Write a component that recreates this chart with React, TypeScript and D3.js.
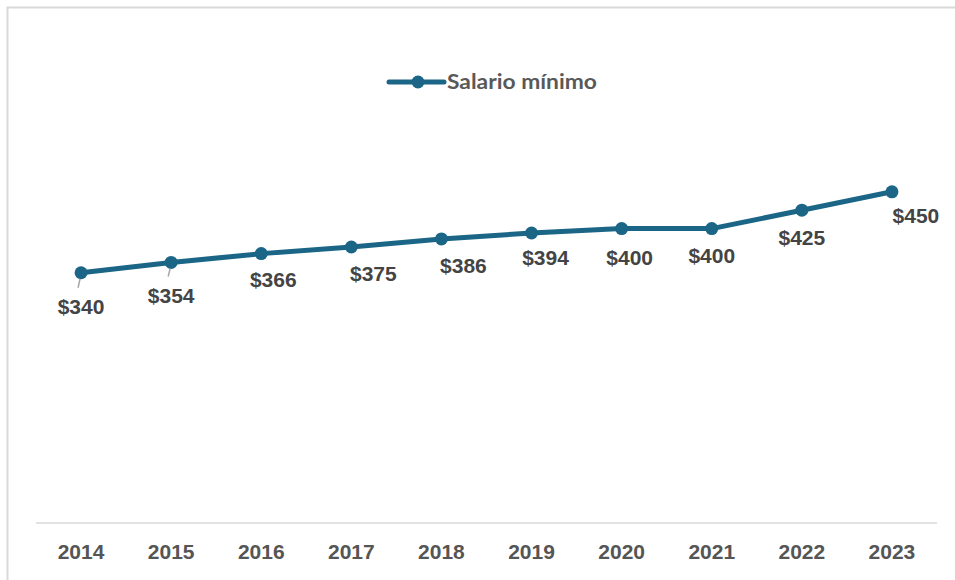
import { useMemo } from "react";
import * as d3 from "d3";

const years = ["2014", "2015", "2016", "2017", "2018", "2019", "2020", "2021", "2022", "2023"];
const salario = [340, 354, 366, 375, 386, 394, 400, 400, 425, 450];
const seriesName = "Salario mínimo";

// label nudges (dx, dy) as Excel placed them
const labelDx = [0, 0, 12, 22, 22, 14, 8, 0, 0, 24];
const labelDy = [34, 33, 26, 26, 27, 24, 29, 27, 27, 24];
const hasLeader = [true, true, false, false, false, false, false, false, false, false];

const lineColor = "#1b6586";
const labelColor = "#444444";
const axisColor = "#555555";

export default function App() {
  const width = 955;
  const height = 580;

  const x = useMemo(() => d3.scaleBand<string>().domain(years).range([36, 937]), []);
  const y = useMemo(() => d3.scaleLinear().domain([0, 500]).range([523, 155]), []);

  const points = years.map((yr, i) => ({
    yr,
    v: salario[i],
    cx: (x(yr) ?? 0) + x.bandwidth() / 2,
    cy: y(salario[i]),
    i,
  }));

  const line = d3
    .line<{ cx: number; cy: number }>()
    .x((d) => d.cx)
    .y((d) => d.cy);

  return (
    <svg
      width={width}
      height={height}
      style={{ position: "absolute", left: 0, top: 0, background: "#fff" }}
      fontFamily="'Liberation Sans', Arial, sans-serif"
    >
      <rect x={7.5} y={7.5} width={960} height={600} fill="#fff" stroke="#d9d9d9" strokeWidth={2} />

      {/* legend */}
      <g transform="translate(389,82)">
        <line x1={0} x2={55} y1={0} y2={0} stroke={lineColor} strokeWidth={5} strokeLinecap="round" />
        <circle cx={29} cy={0} r={6.5} fill={lineColor} />
        <text
          x={58}
          y={7}
          fontFamily="Lato, 'Open Sans', sans-serif"
          fontWeight="bold"
          fontSize={20}
          fill="#595959"
          textLength={150}
          lengthAdjust="spacingAndGlyphs"
        >
          {seriesName}
        </text>
      </g>

      {/* category axis */}
      <line x1={36} x2={937} y1={y(0)} y2={y(0)} stroke="#d9d9d9" strokeWidth={1.5} />
      {years.map((yr) => (
        <text
          key={yr}
          x={(x(yr) ?? 0) + x.bandwidth() / 2}
          y={559}
          textAnchor="middle"
          fontWeight="bold"
          fontSize={21}
          fill={axisColor}
        >
          {yr}
        </text>
      ))}

      <path d={line(points) ?? ""} fill="none" stroke={lineColor} strokeWidth={5} strokeLinejoin="round" />

      {points.map((p) => (
        <circle key={`m-${p.yr}`} cx={p.cx} cy={p.cy} r={6.5} fill={lineColor} />
      ))}

      {points.map((p) => (
        <g key={`l-${p.yr}`}>
          {hasLeader[p.i] && (
            <line
              x1={p.cx - 1}
              y1={p.cy + 6}
              x2={p.cx - 3}
              y2={p.cy + labelDy[p.i] - 19}
              stroke="#a6a6a6"
              strokeWidth={1.5}
            />
          )}
          <text
            x={p.cx + labelDx[p.i]}
            y={p.cy + labelDy[p.i] + 7.5}
            textAnchor="middle"
            fontWeight="bold"
            fontSize={21}
            fill={labelColor}
          >
            {`$${p.v}`}
          </text>
        </g>
      ))}
    </svg>
  );
}
